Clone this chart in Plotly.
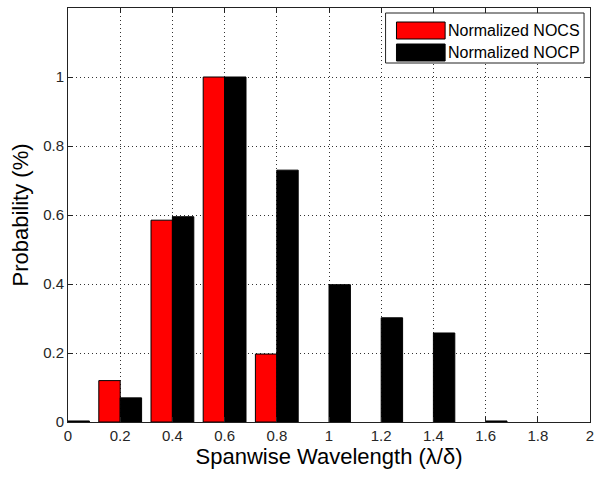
import plotly.graph_objects as go

# Data
wavelength = [0.0, 0.2, 0.4, 0.6, 0.8, 1.0, 1.2, 1.4, 1.6]
nocs = [0.0, 0.12, 0.585, 1.0, 0.197, 0.0, 0.0, 0.0, 0.0]
nocp = [0.003, 0.07, 0.595, 1.0, 0.73, 0.398, 0.302, 0.258, 0.003]
series_names = ["Normalized NOCS", "Normalized NOCP"]
series_colors = ["#ff0000", "#000000"]
x_ticks = [0, 0.2, 0.4, 0.6, 0.8, 1, 1.2, 1.4, 1.6, 1.8, 2]
x_tick_text = ["0", "0.2", "0.4", "0.6", "0.8", "1", "1.2", "1.4", "1.6", "1.8", "2"]
y_ticks = [0, 0.2, 0.4, 0.6, 0.8, 1]
y_tick_text = ["0", "0.2", "0.4", "0.6", "0.8", "1"]

FONT = "Liberation Sans, Arial, sans-serif"

fig = go.Figure()
for name, vals, col in zip(series_names, [nocs, nocp], series_colors):
    fig.add_trace(go.Bar(
        x=wavelength, y=vals, name=name,
        marker=dict(color=col, line=dict(color="black",
                                         width=[1 if v > 0 else 0 for v in vals])),
        showlegend=False,
    ))

axis_common = dict(
    showline=True, linecolor="#222222", linewidth=1, mirror="allticks",
    ticks="inside", ticklen=5, tickcolor="#222222", tickwidth=1,
    showgrid=True, gridcolor="#333333", gridwidth=1, griddash="1px,3px",
    zeroline=False, ticklabeloverflow="allow",
    tickfont=dict(family=FONT, size=15, color="#262626"),
)

fig.update_xaxes(
    range=[0, 2], tickvals=x_ticks, ticktext=x_tick_text,
    title=dict(text="Spanwise Wavelength (λ/δ)", font=dict(family=FONT, size=22, color="black"), standoff=4),
    **axis_common,
)
fig.update_yaxes(
    range=[0, 1.2], tickvals=y_ticks, ticktext=y_tick_text,
    title=dict(text="Probability (%)", font=dict(family=FONT, size=22, color="black"), standoff=8),
    **axis_common,
)

# Custom MATLAB-style legend (paper coordinates)
W, H = 597, 477
ml, mr, mt, mb = 68, 3, 8, 55
pw, ph = W - ml - mr, H - mt - mb

def px(xp):
    return (xp - ml) / pw

def py(yp):
    return 1 - (yp - mt) / ph

shapes = [dict(type="rect", xref="paper", yref="paper",
               x0=px(388), x1=px(588), y0=py(63), y1=py(13),
               line=dict(color="#222222", width=1), fillcolor="white", layer="above")]
annotations = []
rows = [(22, 39), (44, 61)]
for (y0, y1), name, col in zip(rows, series_names, series_colors):
    shapes.append(dict(type="rect", xref="paper", yref="paper",
                       x0=px(399), x1=px(448), y0=py(y1), y1=py(y0),
                       line=dict(color="black", width=1), fillcolor=col, layer="above"))
    annotations.append(dict(xref="paper", yref="paper", x=px(449), y=py((y0 + y1) / 2),
                            text=name, showarrow=False, xanchor="left", yanchor="middle",
                            font=dict(family=FONT, size=16, color="black")))

fig.update_layout(
    width=W, height=H,
    margin=dict(l=ml, r=mr, t=mt, b=mb),
    paper_bgcolor="white", plot_bgcolor="white",
    barmode="group", bargap=0.18, bargroupgap=0,
    shapes=shapes, annotations=annotations,
    showlegend=False,
)

fig.write_html("out.html")
